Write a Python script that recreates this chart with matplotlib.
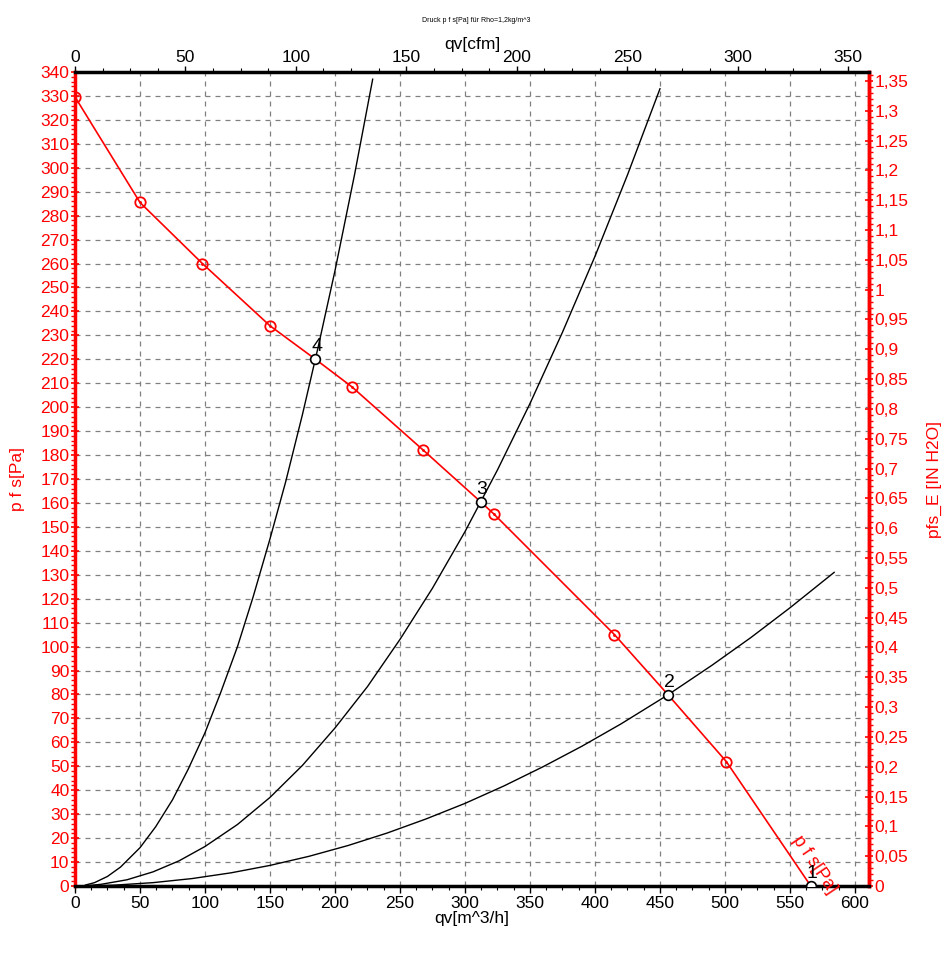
import matplotlib
matplotlib.use("Agg")
import matplotlib.pyplot as plt
from matplotlib.ticker import MultipleLocator, FixedLocator, FuncFormatter

plt.rcParams['font.family'] = ['Liberation Sans', 'DejaVu Sans']

# fan curve p f s [Pa] over qv [m^3/h]
fan_q = [0, 50, 98, 150, 185, 213, 268, 312, 322, 415, 456, 501, 566]
fan_p = [329.6, 285.5, 260, 234, 220, 208.5, 182, 160.5, 155.5, 105, 80, 52, 0]

# red circle markers on the fan curve
mark_q = [0, 50, 98, 150, 213, 268, 322, 415, 501]
mark_p = [329.6, 285.5, 260, 234, 208.5, 182, 155.5, 105, 52]

# system curves (black)
sys4_q = [8, 15, 25, 35, 50, 62, 75, 87, 100, 112, 125, 137, 150, 162, 175, 187, 200, 215, 229]
sys4_p = [0.4, 1.4, 4, 7.9, 16, 24.7, 36, 48.7, 64, 80.7, 100, 120.7, 145, 168.7, 197, 225, 257, 297, 337]
sys3_q = [8, 20, 40, 60, 80, 100, 125, 150, 175, 200, 225, 250, 275, 300, 325, 350, 375, 400, 425, 450]
sys3_p = [0.1, 0.7, 2.6, 5.9, 10.5, 16.5, 25.7, 37, 50.4, 66, 83.3, 103, 124.4, 148, 173.8, 201.5, 231.3, 263, 297, 333]
sys2_q = [8, 30, 60, 90, 120, 150, 180, 210, 240, 270, 300, 330, 360, 390, 420, 456, 490, 520, 550, 584]
sys2_p = [0, 0.35, 1.4, 3.1, 5.5, 8.6, 12.4, 16.9, 22.1, 28, 34.5, 41.8, 49.8, 58.4, 67.7, 79.8, 92.2, 103.8, 116.2, 131]

# operating points
op_q = [566, 456, 312, 185]
op_p = [0, 79.8, 160.5, 220]
op_lbl = ['1', '2', '3', '4']

# tick labels
x_ticks = [0, 50, 100, 150, 200, 250, 300, 350, 400, 450, 500, 550, 600]
cfm_ticks = [0, 50, 100, 150, 200, 250, 300, 350]
inh2o_ticks = [i * 0.05 for i in range(28)]

RED = '#ff0000'
CFM = 1.699
INH2O = 249.09
FS = 12.5

fig = plt.figure(figsize=(9.53, 9.55), dpi=100)
ax = fig.add_axes([75 / 953, 1 - 886 / 955, 794 / 953, 814 / 955])

ax.set_xlim(0, 610.8)
ax.set_ylim(0, 340)

ax.grid(True, color='#808080', linestyle=(0, (4, 4)), linewidth=0.9)
ax.set_axisbelow(True)

for q, p in [(sys4_q, sys4_p), (sys3_q, sys3_p), (sys2_q, sys2_p)]:
    ax.plot(q, p, color='black', linewidth=1.0, zorder=3)

ax.plot(fan_q, fan_p, color=RED, linewidth=1.2, zorder=4)
ax.plot(mark_q, mark_p, linestyle='none', marker='o', markersize=7.5,
        markerfacecolor='none', markeredgecolor=RED, markeredgewidth=1.3, zorder=5)
ax.plot(mark_q, mark_p, linestyle='none', marker='.', markersize=2,
        color=RED, zorder=5)

ax.plot(op_q, op_p, linestyle='none', marker='o', markersize=7,
        markerfacecolor='white', markeredgecolor='black', markeredgewidth=1.2, zorder=6)
for q, p, t in zip(op_q, op_p, op_lbl):
    ax.annotate(t, (q, p), xytext=(1, 3), textcoords='offset points',
                ha='center', va='bottom', fontsize=14, zorder=7)

ax.text(569, 9, 'p f s[Pa]', color=RED, fontsize=13, rotation=-56,
        ha='center', va='center', rotation_mode='anchor')

# spines
for s in ['top', 'bottom']:
    ax.spines[s].set_color('black')
    ax.spines[s].set_linewidth(2.5)
for s in ['left', 'right']:
    ax.spines[s].set_color(RED)
    ax.spines[s].set_linewidth(2.5)

ax.xaxis.set_major_locator(FixedLocator(x_ticks))
ax.xaxis.set_minor_locator(MultipleLocator(12.5))
ax.yaxis.set_major_locator(MultipleLocator(10))
ax.yaxis.set_minor_locator(MultipleLocator(2))
ax.tick_params(axis='x', which='major', length=5, width=1, labelsize=FS, colors='black', pad=2)
ax.tick_params(axis='x', which='minor', length=3, width=0.8)
ax.tick_params(axis='y', which='major', length=6, width=1.2, labelsize=FS,
               colors=RED, direction='inout', pad=1)
ax.tick_params(axis='y', which='minor', length=3, width=1, colors=RED)
ax.set_xlabel('qv[m^3/h]', fontsize=FS, labelpad=0)
ax.set_ylabel('p f s[Pa]', fontsize=FS, color=RED, labelpad=11)

# top axis in cfm
top = ax.secondary_xaxis('top', functions=(lambda x: x / CFM, lambda x: x * CFM))
top.xaxis.set_major_locator(FixedLocator(cfm_ticks))
top.xaxis.set_minor_locator(MultipleLocator(12.5))
top.tick_params(which='major', length=4, width=1, labelsize=FS, pad=1)
top.tick_params(which='minor', length=3, width=0.8)
top.set_xlabel('qv[cfm]', fontsize=FS, labelpad=1)

# right axis in inch water
right = ax.secondary_yaxis('right', functions=(lambda p: p / INH2O, lambda v: v * INH2O))
right.yaxis.set_major_locator(FixedLocator(inh2o_ticks))
right.yaxis.set_minor_locator(MultipleLocator(0.01))
right.yaxis.set_major_formatter(FuncFormatter(lambda v, pos: f'{round(v, 2):g}'.replace('.', ',')))
right.tick_params(which='major', length=6, width=1.2, labelsize=FS, colors=RED,
                  direction='inout', pad=1)
right.tick_params(which='minor', length=3, width=1, colors=RED)
right.spines['right'].set_color(RED)
right.spines['right'].set_linewidth(2.5)
right.set_ylabel('pfs_E [IN H2O]', fontsize=FS, color=RED, labelpad=13)

fig.text(476 / 953, 1 - 21 / 955, 'Druck p f s[Pa] für Rho=1,2kg/m^3',
         fontsize=5, ha='center', va='center')

fig.savefig('out.png', dpi=100)
